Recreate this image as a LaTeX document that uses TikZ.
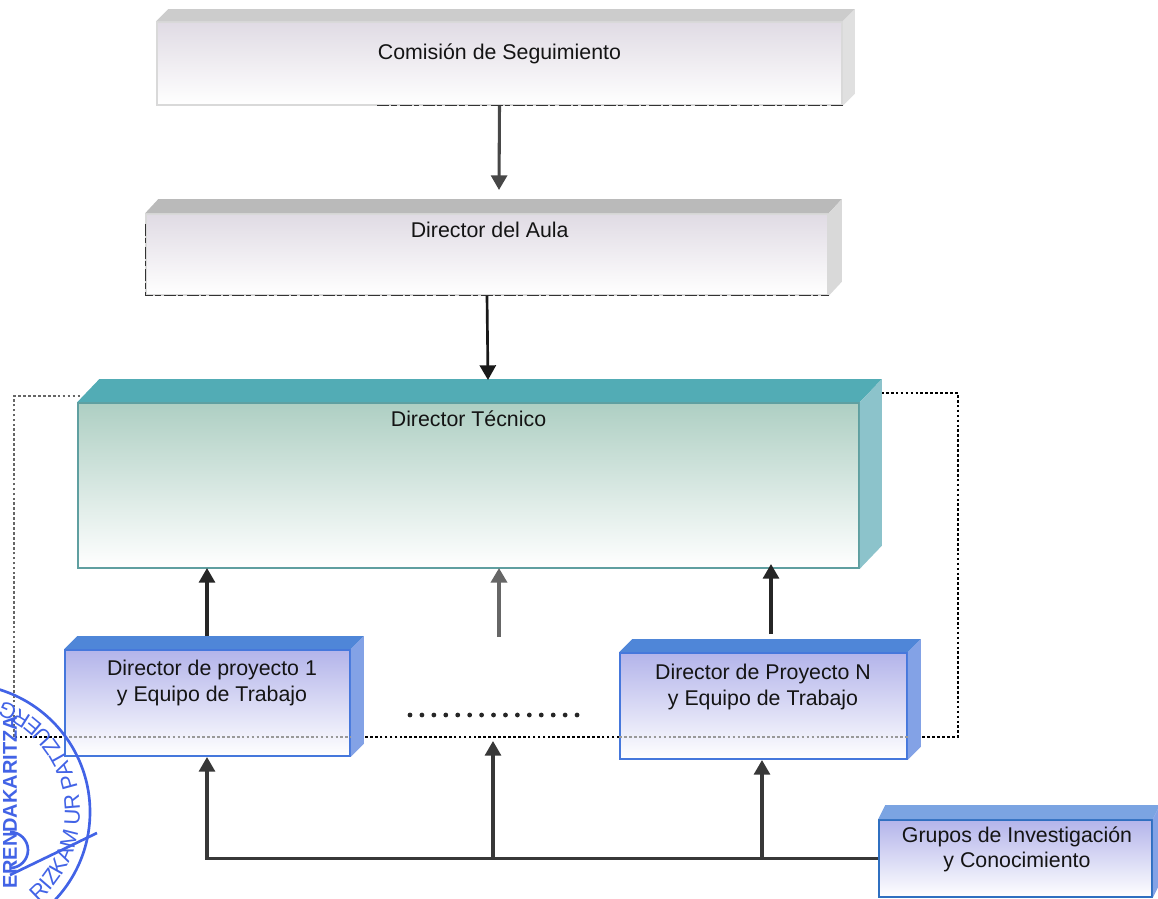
\documentclass[tikz,border=0pt]{standalone}
\usepackage{fontspec}
\setmainfont{Liberation Sans}
\usetikzlibrary{arrows.meta,positioning,fit,decorations.text}
\definecolor{stampblue}{HTML}{4263E6}
\definecolor{comgray}{HTML}{E0DBE4}
\definecolor{tecgreen}{HTML}{AECFC3}
\definecolor{tecedge}{HTML}{5F9FA0}
\definecolor{tectop}{HTML}{52ACB5}
\definecolor{tecside}{HTML}{8CC3CB}
\definecolor{prolav}{HTML}{B3B4EA}
\definecolor{proedge}{HTML}{4577DC}
\definecolor{protop}{HTML}{4F86D8}
\definecolor{proside}{HTML}{83A2E6}
\definecolor{gruedge}{HTML}{2F6FC0}
% faces of a box behind its front node: name, dx, dy, top colour, side colour
\newcommand{\boxfaces}[5]{%
  \fill[#4] (#1.north west) -- ++(#2,-#3) -- ([shift={(#2,-#3)}]#1.north east) -- (#1.north east) -- cycle;
  \fill[#5] (#1.north east) -- ([shift={(#2,-#3)}]#1.north east) -- ([shift={(#2,-#3)}]#1.south east) -- (#1.south east) -- cycle;
}
\begin{document}
\begin{tikzpicture}[x=0.75pt, y=-0.75pt,
    frontface/.style n args={2}{inner sep=0pt, draw=#2, line width=1.2pt, top color=#1, middle color=#1!25, bottom color=white},
    boxtext/.style={font=\fontsize{16}{18.8}\selectfont, align=center, text=black!92, inner sep=0pt},
    arr/.style={-{Triangle[length=11pt,width=12pt]}, line width=2.3pt, draw=black!72},
    busline/.style={line width=2.3pt, draw=black!78},
    dotframe/.style={line width=2pt, dash pattern=on 2pt off 1.7pt},
    scanline/.style={line width=0.9pt, draw=black!80, dash pattern=on 9pt off 1.5pt on 4pt off 2.5pt}
  ]
  \useasboundingbox (0,0) rectangle (1158,899);
  \begin{scope}
    \clip (0,0) rectangle (1158,899);
    \coordinate (frameA) at (881,393);
    \coordinate (frameB) at (958,393);
    \coordinate (frameC) at (958,737);
    \coordinate (frameD) at (14,737);
    \coordinate (frameE) at (14,396);
    \coordinate (frameF) at (80,396);
    \draw[dotframe, black] (frameA) -- (frameB) -- (frameC) -- (frameD);
    \draw[dotframe, black!60] (frameD) -- (frameE) -- (frameF);

    \node[frontface={comgray}{black!15}, fit={(157,22)(842,105)}] (dcom) {};
    \boxfaces{dcom}{12}{12}{black!20}{black!12}
    \node[boxtext, below=16.5pt of dcom.north] (tcom) {Comisión de Seguimiento};

    \node[frontface={comgray}{black!15}, fit={(146,214)(828,295)}] (daula) {};
    \boxfaces{daula}{13}{14}{black!27}{black!15}
    \node[boxtext, below=6.5pt of daula.north, xshift=2pt] (taula) {Director del Aula};

    \node[frontface={tecgreen}{tecedge}, fit={(78,403)(859,568)}] (dtec) {};
    \boxfaces{dtec}{22}{23}{tectop}{tecside}
    \node[boxtext, below=6pt of dtec.north] (ttec) {Director Técnico};

    \node[frontface={prolav}{proedge}, fit={(65,650)(350,756)}] (dpa) {};
    \boxfaces{dpa}{13}{13}{protop}{proside}
    \node[boxtext] (tpa) at (212,683) {Director de proyecto 1\\y Equipo de Trabajo};

    \node[frontface={prolav}{proedge}, fit={(620,653)(907,759)}] (dpn) {};
    \boxfaces{dpn}{13}{13}{protop}{proside}
    \node[boxtext] (tpn) at (763,687) {Director de Proyecto N\\y Equipo de Trabajo};

    \node[frontface={prolav}{gruedge}, fit={(879,820)(1152,897)}] (dgru) {};
    \boxfaces{dgru}{7}{14}{protop!75}{proside}
    \node[boxtext] (tgru) at (1017,849) {Grupos de Investigación\\y Conocimiento};

    % scan marks on the grey boxes and frame over the blue ones
    \draw[scanline] ([xshift=-349pt]dcom.south east) -- (dcom.south east);
    \draw[scanline] ([yshift=-8pt]daula.north west) -- (daula.south west) -- (daula.south east);
    \draw[dotframe, black!40] (dpa.west |- frameD) -- (dpa.east |- frameD);
    \draw[dotframe, black!40] (dpn.west |- frameD) -- (dpn.east |- frameD);

    \coordinate (auin) at (499,190);
    \coordinate (tecin) at (488,380);
    \coordinate (paout) at (207,636);
    \coordinate (patip) at (207,568);
    \coordinate (midout) at (499,637);
    \coordinate (midtip) at (499,568);
    \coordinate (pnout) at (771,634);
    \coordinate (pntip) at (771,564);
    \coordinate (pain) at (207,757);
    \coordinate (busm) at (493,858.5);
    \coordinate (midin) at (493,741);
    \coordinate (busn) at (762,858.5);
    \coordinate (pnin) at (762,760);

    \draw[arr] (dcom.south) -- (auin);
    \draw[arr, draw=black!90, line width=2pt] (daula.south) -- (tecin);
    \draw[arr, draw=black!85] (paout) -- (patip);
    \draw[arr, draw=black!60, line width=2.8pt] (midout) -- (midtip);
    \draw[arr, draw=black!85] (pnout) -- (pntip);
    \draw[busline, -{Triangle[length=11pt,width=12pt]}] (dgru.west) -| (pain);
    \draw[busline, -{Triangle[length=11pt,width=12pt]}] (busm) -- (midin);
    \draw[busline, -{Triangle[length=11pt,width=12pt]}] (busn) -- (pnin);

    \coordinate (gapa) at (410,715);
    \coordinate (gapb) at (580,715);
    \draw[black!85, line width=3.6pt, line cap=round, dash pattern=on 0pt off 8.95pt] (gapa) -- (gapb);

    % stamp
    \begin{scope}[shift={(-38,812)}, x=0.75pt, y=0.75pt, stampblue]
      \draw[line width=2pt] (0,0) circle (128);
      \path[postaction={decorate, decoration={text along path, text align=left, text color=stampblue,
          text={|\fontsize{16.5}{17}\selectfont|RIZKAM UR PATZUERG}}}]
        (-50:118) arc (-50:88:118);
      \node[rotate=90, anchor=center, text=stampblue, font=\fontsize{15}{16}\selectfont\bfseries] (sname) at (48,10) {ERENDAKARITZA};
      \draw[line width=2pt] (48,-38) ++(-90:18) arc (-90:90:18);
      \draw[line width=2pt] (48,-63) -- (135,-21);
    \end{scope}
  \end{scope}
\end{tikzpicture}
\end{document}
